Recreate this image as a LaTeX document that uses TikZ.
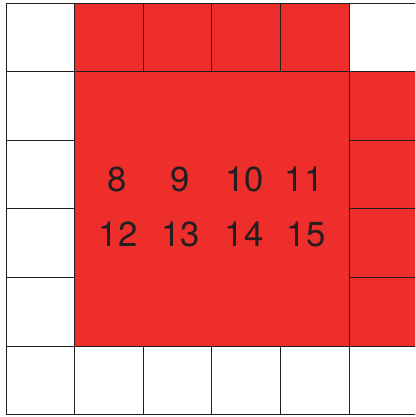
\documentclass[tikz,border=0pt]{standalone}
\usepackage{fontspec}
\setsansfont{TeX Gyre Heros}
\usepackage{xcolor}
\definecolor{gridRed}{HTML}{EE2E2B}
\definecolor{gridLine}{HTML}{231F20}
\definecolor{gridText}{HTML}{231F20}

\tikzset{
  cell/.style={draw=gridLine, line width=0.9pt},
  freecell/.style={cell, fill=white},
  redcell/.style={cell, fill=gridRed},
  num/.style={text=gridText, font=\sffamily\fontsize{34.7}{40}\selectfont, inner sep=0pt}
}

\begin{document}
\begin{tikzpicture}[x=1pt, y=-1pt]
  \useasboundingbox (0,0) rectangle (415,417);
  \clip (0,0) rectangle (415,417);
  \fill[white] (0,0) rectangle (415,417);
  % border cells, size 68.6
  \foreach \i in {0,...,5} {
    \draw[freecell] (6+\i*68.6,346) rectangle ++(68.6,68.6);
  }
  \foreach \j in {1,...,4} {
    \draw[freecell] (6,3+\j*68.6) rectangle ++(68.6,68.6);
    \draw[redcell] (349,3+\j*68.6) rectangle ++(68.6,68.6);
  }
  \draw[freecell] (6,3) rectangle ++(68.6,68.6);
  \draw[freecell] (349,3) rectangle ++(68.6,68.6);
  \foreach \i in {1,...,4} {
    \draw[redcell] (6+\i*68.6,3) rectangle ++(68.6,68.6);
  }
  % central block
  \draw[redcell] (74.6,71.6) rectangle (349,346);
  % numbers
  \node[num] (n8)  at (117,179) {8};
  \node[num] (n9)  at (180,179) {9};
  \node[num] (n10) at (244.5,179) {10};
  \node[num] (n11) at (304,179) {11};
  \node[num] (n12) at (118,234) {12};
  \node[num] (n13) at (180.5,234) {13};
  \node[num] (n14) at (244,234) {14};
  \node[num] (n15) at (306,234) {15};
\end{tikzpicture}
\end{document}
